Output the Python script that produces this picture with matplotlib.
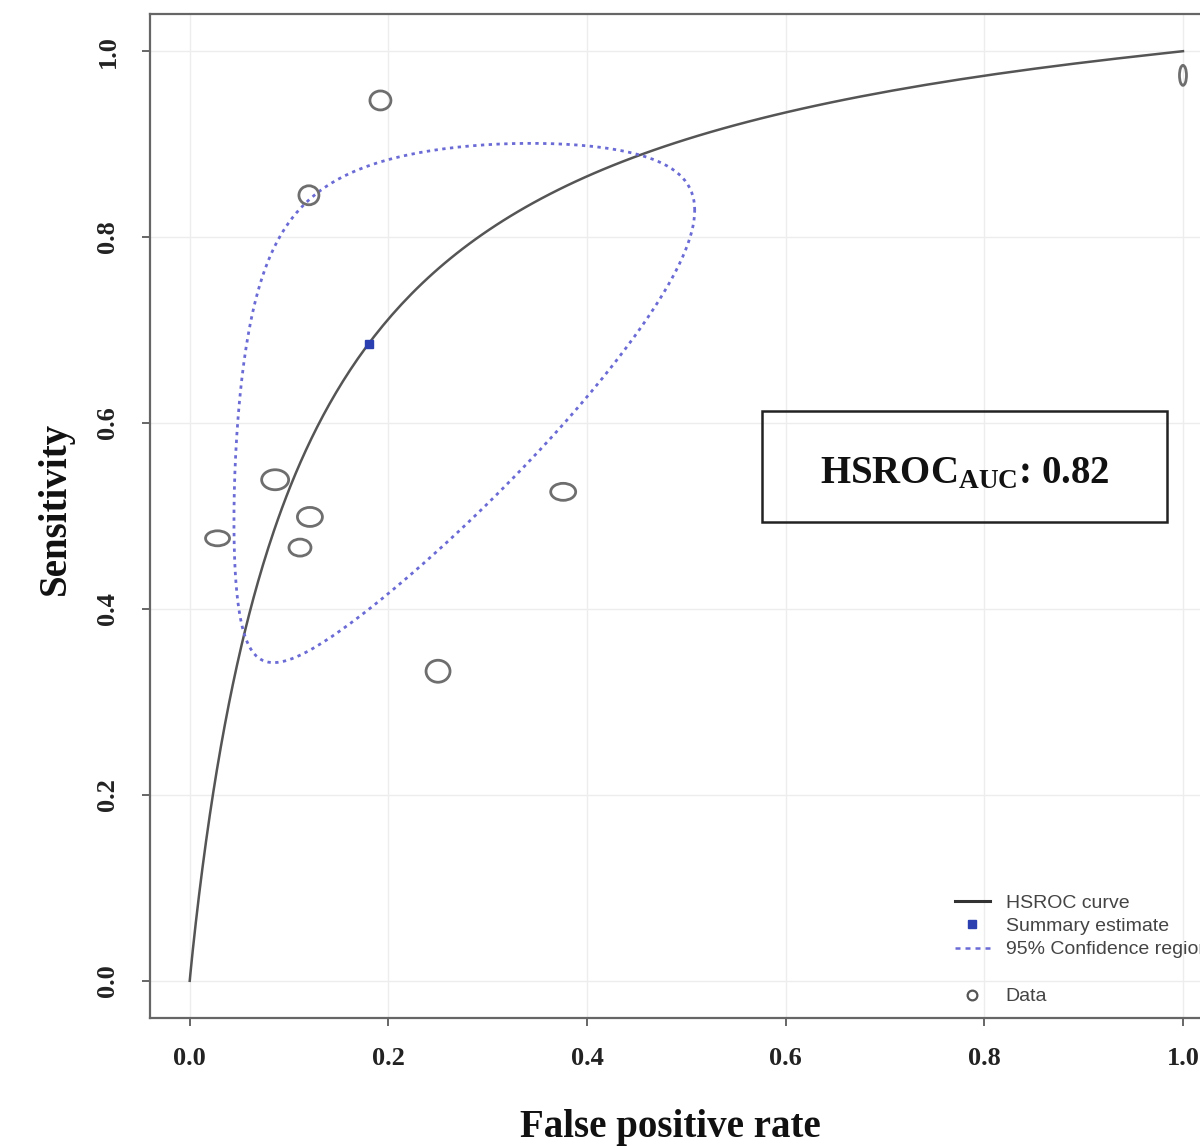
import numpy as np
import matplotlib
matplotlib.use("Agg")
import matplotlib.pyplot as plt
from matplotlib.lines import Line2D
from matplotlib.patches import Rectangle
from matplotlib.collections import EllipseCollection

# ---- study data (false positive rate, sensitivity) ----
study_fpr = [0.192, 0.120, 0.086, 0.028, 0.121, 0.111, 0.376, 0.250, 1.000]
study_sens = [0.947, 0.845, 0.539, 0.476, 0.499, 0.466, 0.526, 0.333, 0.974]
# relative study weights shown as ellipse width / height (pixels)
study_w = [21, 20, 27, 24, 25, 22, 25, 24, 7]
study_h = [19, 19, 20, 15, 19, 17, 17, 22, 20]

# ---- summary estimate and HSROC model ----
summary_fpr = 0.180
summary_sens = 0.685
hsroc_intercept = 2.256   # logit(sens) = intercept + slope * logit(fpr)
hsroc_slope = 0.975
auc_value = 0.82

# 95% confidence region (ellipse in logit space around summary point)
region_sd_fpr = 1.55
region_sd_sens = 1.43
region_rho = 0.56

tick_vals = [0.0, 0.2, 0.4, 0.6, 0.8, 1.0]
tick_labels = ["0.0", "0.2", "0.4", "0.6", "0.8", "1.0"]


def logit(p):
    return np.log(p / (1 - p))


def expit(z):
    return 1 / (1 + np.exp(-z))


plt.rcParams["mathtext.fontset"] = "custom"
plt.rcParams["mathtext.rm"] = "Liberation Serif:bold"
plt.rcParams["mathtext.bf"] = "Liberation Serif:bold"
plt.rcParams["mathtext.it"] = "Liberation Serif:bold"

fig = plt.figure(figsize=(12, 11.46), dpi=100)
W, H = 1200, 1146
ax = fig.add_axes([150 / W, (H - 1018) / H, (1222.7 - 150) / W, (1018 - 14) / H])
ax.set_xlim(-0.04, 1.04)
ax.set_ylim(-0.04, 1.04)

# grid
for v in tick_vals:
    ax.axvline(v, color="#ededed", lw=1.0, zorder=0)
    ax.axhline(v, color="#ededed", lw=1.0, zorder=0)

# HSROC curve
fpr_grid = np.concatenate([[0.0], np.logspace(-6, np.log10(0.999999), 600), [1.0]])
inner = fpr_grid[1:-1]
sens_grid = np.concatenate([[0.0], expit(hsroc_intercept + hsroc_slope * logit(inner)), [1.0]])
ax.plot(fpr_grid, sens_grid, color="#555555", lw=1.8, zorder=3)

# confidence region
t = np.linspace(0, 2 * np.pi, 400)
cx = logit(summary_fpr) + region_sd_fpr * np.cos(t)
cy = logit(summary_sens) + region_sd_sens * (region_rho * np.cos(t) + np.sqrt(1 - region_rho ** 2) * np.sin(t))
ax.plot(expit(cx), expit(cy), color="#6b6bd6", lw=2.0, ls=(0, (1.2, 1.6)), zorder=3)

# study ellipses
ec = EllipseCollection(study_w, study_h, np.zeros(len(study_w)), units="dots",
                       offsets=np.column_stack([study_fpr, study_sens]),
                       offset_transform=ax.transData,
                       facecolors="none", edgecolors="#6e6e6e", linewidths=2.0, zorder=4)
ax.add_collection(ec)

# summary estimate
ax.plot([summary_fpr], [summary_sens], marker="s", ms=6, color="#2b3fb0", ls="none", zorder=5)

# AUC box
ax.add_patch(Rectangle((0.576, 0.494), 0.984 - 0.576, 0.6125 - 0.494, fill=False,
                       edgecolor="#222222", lw=1.8, zorder=6))
ax.text(0.780, 0.545, r"HSROC$_{\mathrm{AUC}}$: %.2f" % auc_value, ha="center", va="center",
        fontsize=28, fontfamily="Liberation Serif", fontweight="bold", color="#111111", zorder=7)

# axes styling
for side in ["left", "top", "bottom"]:
    ax.spines[side].set_color("#666666")
    ax.spines[side].set_linewidth(1.6)
ax.spines["right"].set_visible(False)
ax.set_xticks(tick_vals)
ax.set_yticks(tick_vals)
ax.set_xticklabels(tick_labels)
ax.set_yticklabels(tick_labels, rotation=90, va="center")
ax.tick_params(axis="both", direction="out", length=6, width=1.4, color="#666666",
               labelsize=19, labelcolor="#222222")
ax.tick_params(axis="x", pad=15)
ax.tick_params(axis="y", pad=16)
for lab in ax.get_xticklabels() + ax.get_yticklabels():
    lab.set_fontfamily("Liberation Serif")
    lab.set_fontweight("bold")

ax.set_xlabel("False positive rate", fontsize=28, fontfamily="Liberation Serif",
              fontweight="bold", color="#111111")
ax.set_ylabel("Sensitivity", fontsize=28, fontfamily="Liberation Serif",
              fontweight="bold", color="#111111")
ax.xaxis.set_label_coords((670 - 150) / 1072.7, -(1127 - 1018) / 1004)
ax.yaxis.set_label_coords((55 - 150) / 1072.7, (1018 - 508) / 1004)
ax.xaxis.label.set_va("center")
ax.yaxis.label.set_va("center")

# legend
handles = [
    Line2D([], [], color="#333333", lw=2.2),
    Line2D([], [], marker="s", ms=6, color="#2b3fb0", ls="none"),
    Line2D([], [], color="#6b6bd6", lw=1.8, ls=(0, (2, 2))),
    Line2D([], [], ls="none"),
    Line2D([], [], marker="o", ms=7, mfc="none", mec="#555555", mew=1.6, ls="none"),
]
labels = ["HSROC curve", "Summary estimate", "95% Confidence region", "", "Data"]
leg = ax.legend(handles, labels, loc="upper left", bbox_to_anchor=(955 / W, 1 - 894 / H),
                bbox_transform=fig.transFigure, frameon=False, borderpad=0, borderaxespad=0,
                handlelength=1.8, handletextpad=0.8, labelspacing=0.30,
                prop={"family": "Liberation Sans", "size": 14})
for txt in leg.get_texts():
    txt.set_color("#444444")

fig.savefig("out.png", dpi=100)
